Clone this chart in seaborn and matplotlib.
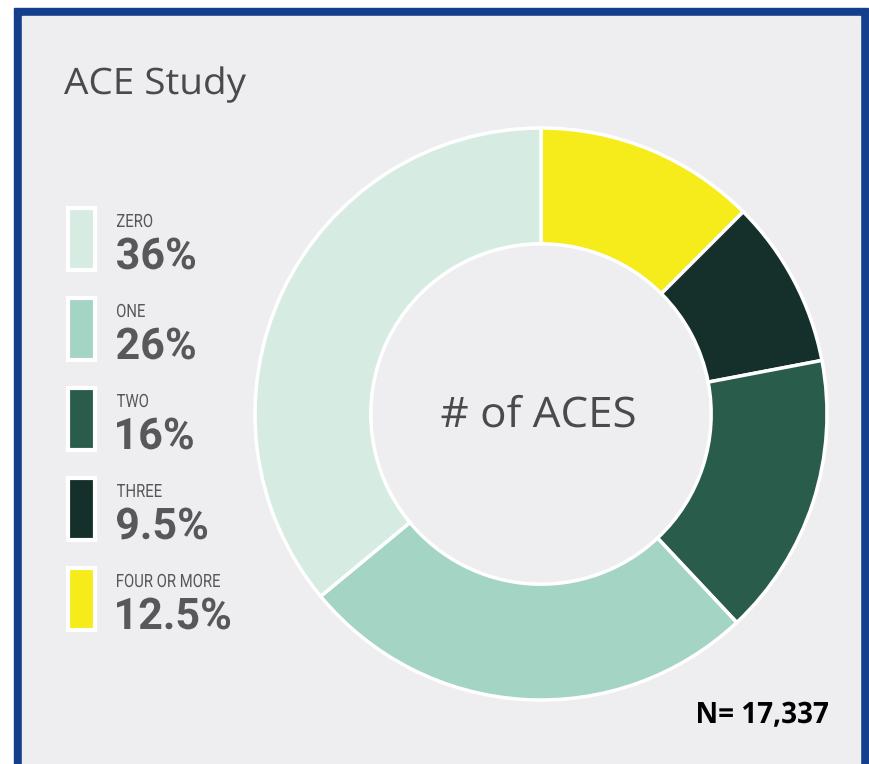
#!/usr/bin/env python3
## ACE study donut chart

import matplotlib
matplotlib.use("Agg")
import matplotlib.pyplot as plt
from matplotlib.font_manager import FontProperties
from matplotlib.patches import Rectangle, PathPatch
from matplotlib.textpath import TextPath
from matplotlib.transforms import Affine2D
import seaborn as sns

categories = ["ZERO", "ONE", "TWO", "THREE", "FOUR OR MORE"]
shares = [36, 26, 16, 9.5, 12.5]
share_labels = ["36%", "26%", "16%", "9.5%", "12.5%"]
colors = sns.color_palette(["#d6ece3", "#a4d4c4", "#2a5c4c", "#15302a", "#f7ec1b"])

sns.set_theme(style="white")

W, H = 869, 764
fig = plt.figure(figsize=(W / 100, H / 100), dpi=100)
fig.patch.set_facecolor("white")

# background overlay in pixel coords
bg = fig.add_axes([0, 0, 1, 1])
bg.set_xlim(0, W)
bg.set_ylim(H, 0)
bg.axis("off")
bg.add_patch(Rectangle((14, 8), 854, H, color="#143f8c"))
bg.add_patch(Rectangle((22, 16), 838, H, color="#eeeef0"))


def squeezed(x, base, s, cap, family, weight="normal", sx=1.0, width=None,
             color="#58585a", ha="left"):
    # text as a path so it can be narrowed (no condensed font installed)
    fp = FontProperties(family=family, weight=weight)
    cap1 = TextPath((0, 0), "H", size=1, prop=fp).get_extents().height
    tp = TextPath((0, 0), s, size=cap / cap1, prop=fp)
    ext = tp.get_extents()
    if width:
        sx = width / ext.width
    x0 = x - ext.x0 * sx
    if ha == "center":
        x0 = x - (ext.x0 + ext.width / 2) * sx
    tr = Affine2D().scale(sx, -1).translate(x0, base) + bg.transData
    bg.add_patch(PathPatch(tp, transform=tr, fc=color, ec="none", lw=0))
    return sx


squeezed(64, 94, "ACE Study", 26, "Open Sans", width=182, color="#4a4a4c")

# legend
lab_sx = squeezed(-999, -999, "FOUR OR MORE", 13, "Roboto", width=103)
num_sx = squeezed(-999, -999, "36%", 31, "Roboto", weight="bold", width=78)
for i, (cat, lab, col) in enumerate(zip(categories, share_labels, colors)):
    top = 208 + 90 * i
    bg.add_patch(Rectangle((68, top), 27, 62, facecolor=col, edgecolor="white", linewidth=3))
    squeezed(117, top + 19, cat, 13, "Roboto", sx=lab_sx)
    squeezed(117, top + 61, lab, 31, "Roboto", weight="bold", sx=num_sx)

squeezed(763, 723, "N= 17,337", 21, "Open Sans", weight="bold", width=130,
         color="black", ha="center")

# donut
cx, cy, r = 541, 414, 286
ax = fig.add_axes([(cx - r) / W, (H - cy - r) / H, 2 * r / W, 2 * r / H])
order = [4, 3, 2, 1, 0]
ax.pie([shares[k] for k in order], colors=[colors[k] for k in order],
       startangle=90, counterclock=False, radius=1,
       wedgeprops=dict(width=0.405, edgecolor="white", linewidth=2.5))
ax.set_xlim(-1, 1)
ax.set_ylim(-1, 1)
ax.set_aspect("equal")
ax.axis("off")

squeezed(538, 427, "# of ACES", 30, "Open Sans", width=193, color="#4a4a4c", ha="center")

fig.savefig("out.png", dpi=100, facecolor=fig.get_facecolor())
plt.close(fig)
